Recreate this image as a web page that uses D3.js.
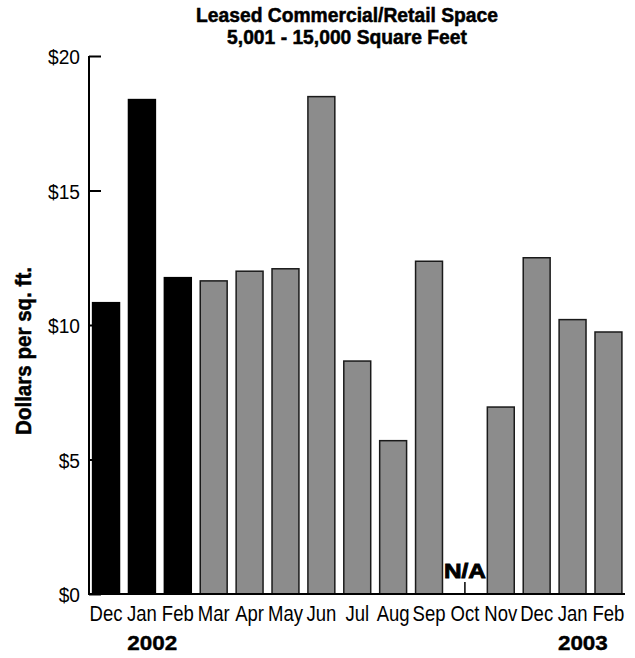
<!DOCTYPE html>
<html><head><meta charset="utf-8">
<script src="https://cdn.jsdelivr.net/npm/d3@7"></script>
<style>body{margin:0;background:#fff}svg{display:block}</style>
</head><body><div id="chart"></div>
<script>
const months = ["Dec","Jan","Feb","Mar","Apr","May","Jun","Jul","Aug","Sep","Oct","Nov","Dec","Jan","Feb"];
const keys = months.map((m,i)=>m+"_"+i);
const values = [10.83,18.38,11.76,11.64,12.0,12.09,18.49,8.66,5.70,12.37,null,6.95,12.5,10.2,9.74];
const highlight = [true,true,true,false,false,false,false,false,false,false,false,false,false,false,false];
const yTicks = [0,5,10,15,20];
const yTickLabels = ["$0","$5","$10","$15","$20"];
const titleLines = ["Leased Commercial/Retail Space","5,001 - 15,000 Square Feet"];
const yearLabels = [{year:"2002", idx:1},{year:"2003", idx:13}];

const W=635,H=658;
const font = "'Liberation Sans',Arial,sans-serif";
const svg = d3.select("#chart").append("svg").attr("width",W).attr("height",H);

function measure(str,size,weight){
  const t = svg.append("text").attr("font-family",font).attr("font-size",size).attr("font-weight",weight).text(str);
  const w = t.node().getComputedTextLength(); t.remove(); return w;
}
function addText(parent,str,x,y,size,weight,sx,anchor,rot){
  return parent.append("text").attr("transform",`translate(${x},${y})${rot?` rotate(${rot})`:""} scale(${sx},1)`)
    .attr("text-anchor",anchor||"middle").attr("font-family",font).attr("font-size",size)
    .attr("font-weight",weight).attr("fill","#000").text(str);
}

const x = d3.scaleBand().domain(keys).range([89,625.5]).paddingInner(0.25).paddingOuter(0.1);
const y = d3.scaleLinear().domain([0,20]).range([594,56]);

// title
const titleSx = 302/measure(titleLines[0],19.5,"bold");
titleLines.forEach((s,i)=>addText(svg,s,347,21.5+i*22,19.5,"bold",titleSx).attr("stroke","#000").attr("stroke-width",0.5));

// bars
svg.append("g").selectAll("rect").data(values.map((v,i)=>({v,i})).filter(d=>d.v!=null)).join("rect")
  .attr("x",d=>x(keys[d.i])).attr("width",x.bandwidth())
  .attr("y",d=>y(d.v)).attr("height",d=>y(0)-y(d.v))
  .attr("fill",d=>highlight[d.i]?"#000":"#8c8c8c")
  .attr("stroke",d=>highlight[d.i]?"#000":"#1a1a1a").attr("stroke-width",1.5);

// N/A marker
const naSx = 42/measure("N/A",21,"bold");
values.forEach((v,i)=>{
  if(v==null){
    const cx = x(keys[i])+x.bandwidth()/2;
    svg.append("line").attr("x1",cx).attr("x2",cx).attr("y1",582).attr("y2",594).attr("stroke","#000").attr("stroke-width",1.5);
    addText(svg,"N/A",cx,578,21,"bold",naSx).attr("stroke","#000").attr("stroke-width",0.9);
  }
});

// y axis
const yAxis = d3.axisRight(y).tickValues(yTicks).tickSize(12).tickFormat(()=> "");
const ya = svg.append("g").attr("transform","translate(89,0)").call(yAxis);
ya.select(".domain").attr("stroke","#000").attr("stroke-width",2).attr("d","M0,56V594");
ya.selectAll(".tick line").attr("stroke","#000").attr("stroke-width",2);
const ySx = 32/measure("$20",21,"normal");
yTicks.forEach((d,i)=>addText(svg,yTickLabels[i],80,y(d)+8,21,"normal",ySx,"end"));

// x axis
const xSx = 35/measure("May",22,"normal");
const xAxis = d3.axisBottom(x).tickSize(0).tickFormat((d,i)=>months[i]);
const xa = svg.append("g").attr("transform","translate(0,594)").call(xAxis);
xa.select(".domain").attr("stroke","#000").attr("stroke-width",2).attr("d","M88,0H625");
xa.selectAll("text").attr("font-family",font).attr("font-size",22).attr("fill","#000")
  .attr("dy",null).attr("y",null).attr("transform",`translate(0,26.5) scale(${xSx},1)`);

// year labels
const yrSx = 50/measure("2002",21,"bold");
yearLabels.forEach(d=>addText(svg,d.year,x(keys[d.idx])+x.bandwidth()/2+10.3,650,21,"bold",yrSx).attr("stroke","#000").attr("stroke-width",0.4));

// y label
const ylSx = 168/measure("Dollars per sq. ft.",22,"bold");
addText(svg,"Dollars per sq. ft.",31,351,22,"bold",ylSx,"middle",-90).attr("stroke","#000").attr("stroke-width",0.5);
</script></body></html>
